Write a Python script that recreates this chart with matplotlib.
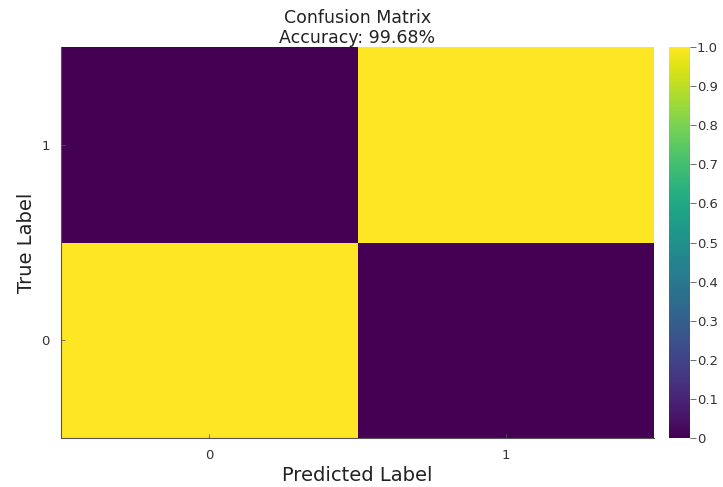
import matplotlib
matplotlib.use("Agg")
import matplotlib.pyplot as plt
import numpy as np

# Data
pred_labels = ["0", "1"]
true_labels = ["0", "1"]
row_true0 = [0.9968, 0.0032]
row_true1 = [0.0032, 0.9968]
accuracy = 99.68
cbar_ticks = [0, 0.1, 0.2, 0.3, 0.4, 0.5, 0.6, 0.7, 0.8, 0.9, 1.0]
cbar_ticklabels = ["0", "0.1", "0.2", "0.3", "0.4", "0.5", "0.6", "0.7", "0.8", "0.9", "1.0"]

mat = np.array([row_true0, row_true1])

W, H = 723, 487
fig = plt.figure(figsize=(W / 100, H / 100), dpi=100)
ax = fig.add_axes([61 / W, 1 - 438 / H, (654 - 61) / W, (438 - 47) / H])
cax = fig.add_axes([669 / W, 1 - 438 / H, (690 - 669) / W, (438 - 47) / H])

im = ax.pcolormesh(np.arange(3) - 0.5, np.arange(3) - 0.5, mat, cmap="viridis", vmin=0, vmax=1)
ax.set_xlim(-0.5, 1.5)
ax.set_ylim(-0.5, 1.5)
ax.set_xticks([0, 1])
ax.set_xticklabels(pred_labels)
ax.set_yticks([0, 1])
ax.set_yticklabels(true_labels)
for s in ["top", "right"]:
    ax.spines[s].set_visible(False)
for s in ["left", "bottom"]:
    ax.spines[s].set_color("#555555")
    ax.spines[s].set_linewidth(0.8)
ax.tick_params(direction="in", length=3, width=0.6, color="#555555", labelsize=9.5,
               labelcolor="#333333", pad=8)
ax.set_xlabel("Predicted Label", fontsize=14, color="#222222", labelpad=3)
ax.set_ylabel("True Label", fontsize=14, color="#222222", labelpad=4)
ax.set_title(f"Confusion Matrix\nAccuracy: {accuracy:.2f}%", fontsize=12.5, color="#222222",
             pad=-2, linespacing=1.12)

cb = fig.colorbar(im, cax=cax)
cb.set_ticks(cbar_ticks)
cb.set_ticklabels(cbar_ticklabels)
cb.outline.set_visible(False)
cax.tick_params(direction="out", length=4, width=0.6, color="#555555", labelsize=9.5,
                labelcolor="#333333", pad=1)
cax.axvline(1, color="#555555", lw=0.8)

fig.savefig("out.png", dpi=100)
